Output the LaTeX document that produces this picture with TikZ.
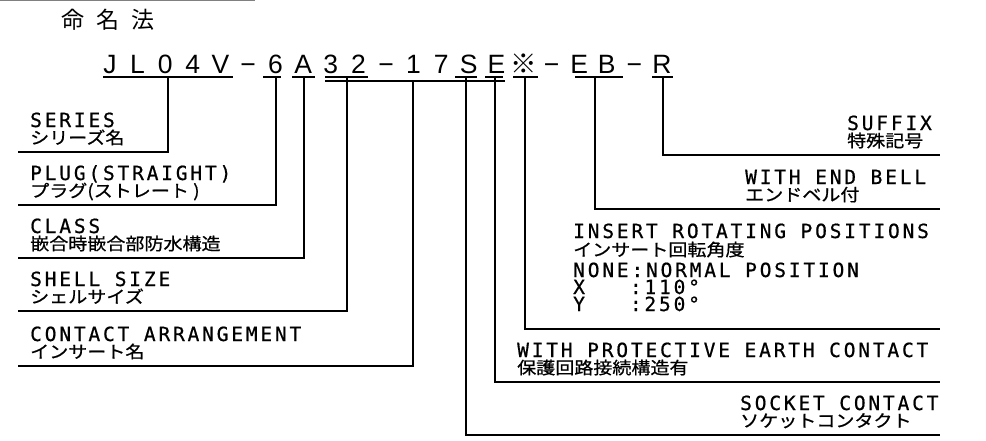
\documentclass[tikz,border=0pt]{standalone}
\usepackage{fontspec}
\newfontfamily\cadfont[LetterSpace=14.5, FakeBold=0.7]{DejaVu Sans Mono}
\newfontfamily\codefont{Liberation Sans}
\newfontfamily\jpfont[FakeStretch=1.12, FakeBold=0.8]{Noto Sans CJK JP}
\newfontfamily\titlefont{Noto Sans CJK JP}

\begin{document}
\begin{tikzpicture}[x=1pt, y=-1pt,
    lbl/.style={anchor=base west, inner sep=0pt, text height=14pt, text depth=0pt,
      font=\fontsize{19.5}{19.5}\cadfont},
    lbljp/.style={anchor=base west, inner sep=0pt, text height=13pt, text depth=2pt,
      font=\fontsize{17}{17}\jpfont},
    code/.style={anchor=base, inner sep=0pt, font=\fontsize{26.5}{26.5}\codefont},
    lead/.style={line width=1.6pt}]
  \useasboundingbox (0,0) rectangle (986,440);
  \draw[gray, line width=1pt] (0,0.6) -- (255,0.6);
  \node[anchor=west, inner sep=0pt, font=\fontsize{23}{23}\titlefont] (title) at (61,20) {命\hspace{12pt}名\hspace{12pt}法};

  % part number
  \foreach \ch [count=\i from 0] in {J,L,0,4,V,−,6,A,3,2,−,1,7,S,E,{\titlefont ※},−,E,B,−,R}
    \node[code] (c\i) at (110+27.6*\i, 73) {\ch};
  \foreach \a/\b/\y in {103/233/77, 263/281/77, 292/315/77, 325/368/77, 325/505/81,
      455/477/77, 485/503/77, 513/538/77, 575/623/77, 652/673/77}
    \draw[lead] (\a,\y) -- (\b,\y);

  % leaders
  \foreach \name/\x/\t/\y/\e in {series/168/77/152/18, plug/276/77/205/18,
      class/304/77/258/18, shell/347/77/311/18, contact/413/81/366/18,
      socket/466/77/435/940, earth/495/77/382/940, rotate/525/77/329/940,
      bell/595/77/209/940, suffix/663/77/155/940} {
    \coordinate (\name-top) at (\x,\t);
    \coordinate (\name-end) at (\e,\y);
    \draw[lead] (\name-top) |- (\name-end);
  }

  \node[lbl] (series) at (30,127) {SERIES};
  \node[lbljp] (series-jp) at (30,144) {シリーズ名};
  \node[lbl] (plug) at (30,180) {PLUG(STRAIGHT)};
  \node[lbljp] (plug-jp) at (30,197) {プラグ(ストレート )};
  \node[lbl] (class) at (30,233) {CLASS};
  \node[lbljp] (class-jp) at (30,250) {嵌合時嵌合部防水構造};
  \node[lbl] (shell) at (30,286) {SHELL SIZE};
  \node[lbljp] (shell-jp) at (30,303) {シェルサイズ};
  \node[lbl] (contact) at (30,341) {CONTACT ARRANGEMENT};
  \node[lbljp] (contact-jp) at (30,358) {インサート名};

  \node[lbl] (suffix) at (847,130) {SUFFIX};
  \node[lbljp] (suffix-jp) at (847,147) {特殊記号};
  \node[lbl] (bell) at (745,184) {WITH END BELL};
  \node[lbljp] (bell-jp) at (745,201) {エンドベル付};
  \node[lbl] (rotate) at (573,238) {INSERT ROTATING POSITIONS};
  \node[lbljp] (rotate-jp) at (573,256) {インサート回転角度};
  \node[lbl] (rotate-a) at (573,277) {NONE:NORMAL POSITION};
  \node[lbl] (rotate-b) at (573,294) {X\hspace{45pt}:110°};
  \node[lbl] (rotate-c) at (573,311) {Y\hspace{45pt}:250°};
  \node[lbl] (earth) at (517,357) {WITH PROTECTIVE EARTH CONTACT};
  \node[lbljp] (earth-jp) at (517,374) {保護回路接続構造有};
  \node[lbl] (socket) at (740,410) {SOCKET CONTACT};
  \node[lbljp] (socket-jp) at (740,427) {ソケットコンタクト};
\end{tikzpicture}
\end{document}
